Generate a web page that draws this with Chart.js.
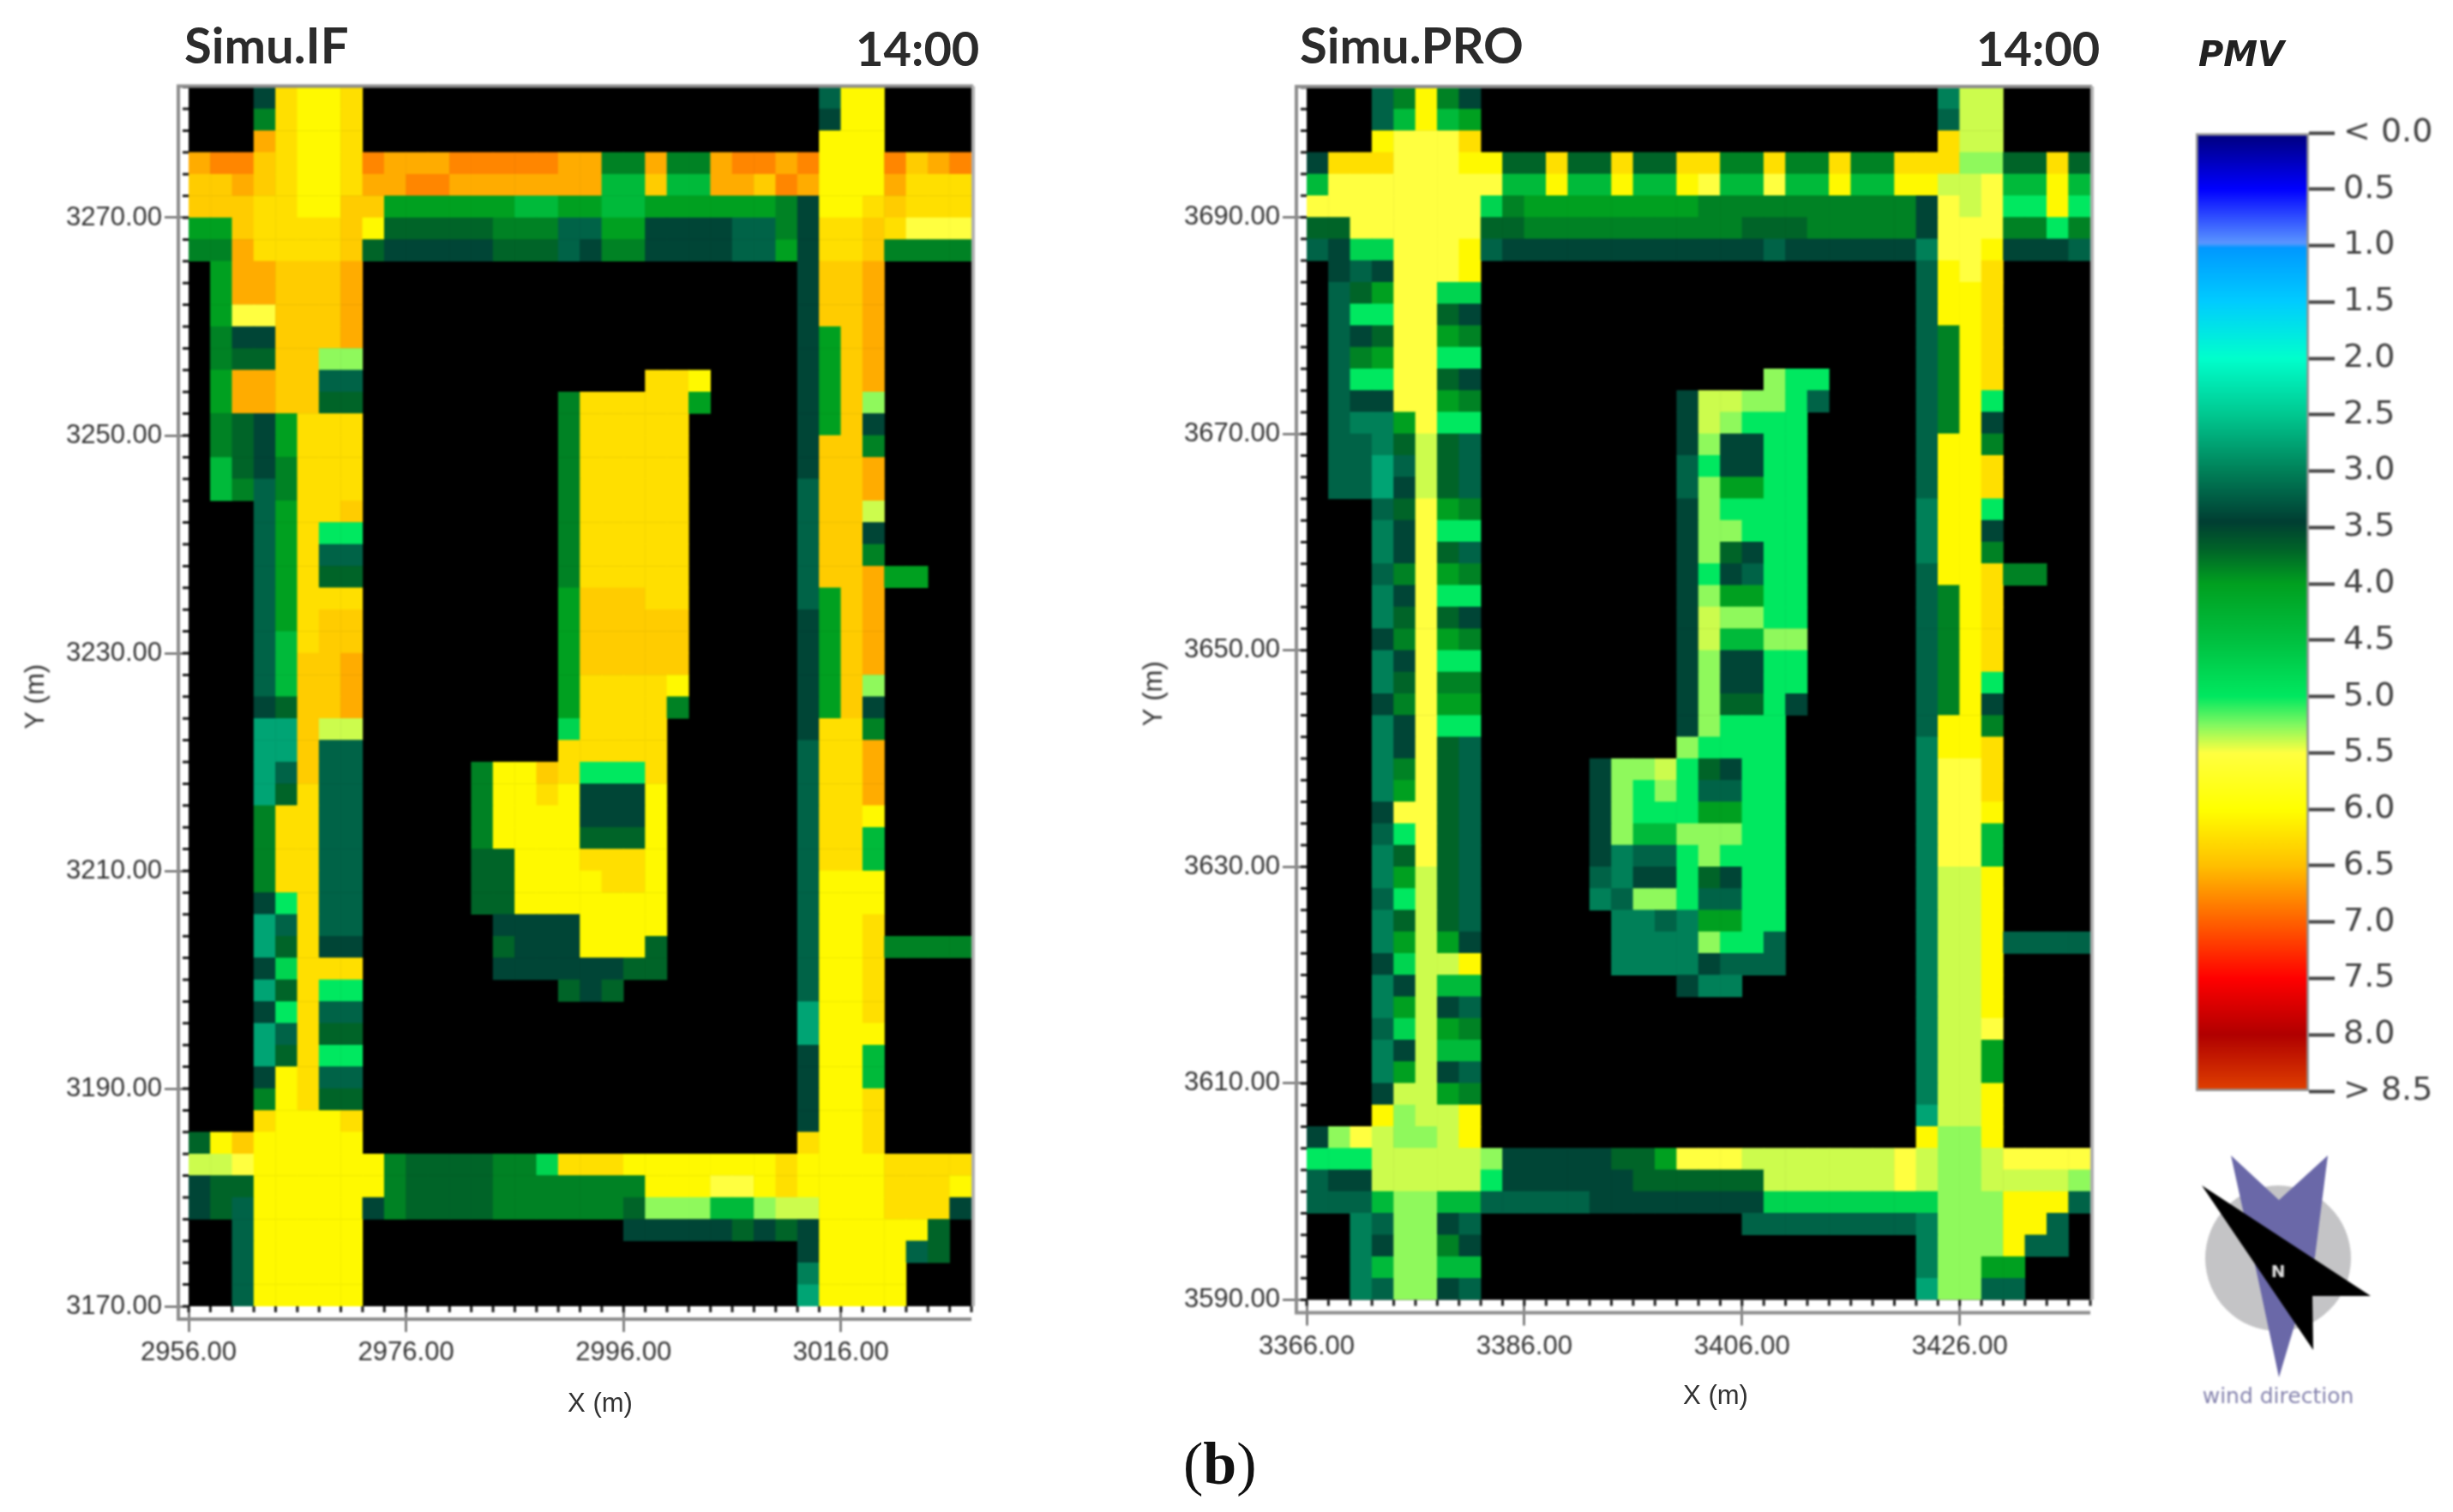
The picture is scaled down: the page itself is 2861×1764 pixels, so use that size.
<!DOCTYPE html>
<html>
<head>
<meta charset="utf-8">
<title>PMV maps</title>
<script src="https://cdn.jsdelivr.net/npm/chart.js@4"></script>
<style>
  html, body { margin: 0; padding: 0; background: #fff; }
  body { position: relative; width: 2861px; height: 1764px; overflow: hidden; }
  canvas { position: absolute; filter: blur(1px); }
  .label { position: absolute; white-space: nowrap; color: #2b2b2b; filter: blur(0.6px); }
  .panel-name { font: bold 58px Lato, sans-serif; }
  .panel-time { font: bold 56px Lato, sans-serif; }
  .axis-name { font: 31px 'Liberation Sans', sans-serif; color: #333; transform: translate(-50%, -50%); }
  #compass { position: absolute; left: 2540px; top: 1330px; filter: blur(1px); }
</style>
</head>
<body>
<canvas id="panelIF"></canvas>
<canvas id="panelPRO"></canvas>
<canvas id="colorbar"></canvas>

<div class="label panel-name" style="left:215px;top:17px">Simu.IF</div>
<div class="label panel-time" style="left:998px;top:22px">14:00</div>
<div class="label panel-name" style="left:1516px;top:17px">Simu.PRO</div>
<div class="label panel-time" style="left:2305px;top:22px">14:00</div>
<div class="label axis-name" style="left:700px;top:1637px">X (m)</div>
<div class="label axis-name" style="left:2001px;top:1628px">X (m)</div>
<div class="label" style="left:2564px;top:40px;font:italic bold 40px 'DejaVu Sans',sans-serif;color:#222">PMV</div>
<div class="label" style="left:1380px;top:1668px;font:70px 'Liberation Serif',serif;color:#111">(<b>b</b>)</div>

<svg id="compass" width="260" height="320" viewBox="2540 1330 260 320">
  <circle cx="2657" cy="1468" r="85" fill="#c4c4c6"/>
  <polygon points="2602,1348 2658,1400 2715,1348 2700,1466 2658,1607 2633,1489" fill="#6a68a8"/>
  <polygon points="2568,1383 2765,1512 2697,1512 2698,1575" fill="#000"/>
  <text x="2657" y="1490" text-anchor="middle" font-family="DejaVu Sans" font-weight="bold" font-size="20" fill="#ddd">N</text>
  <text x="2657" y="1637" text-anchor="middle" font-family="DejaVu Sans" font-size="25" fill="#8583ad">wind direction</text>
</svg>

<script>
// PMV codes used in the cell rows, '.' is a building (no value)
const pmvCodes = "abcdefghijklmnopqr";
const pmvValues = [2.75, 3.0, 3.2, 3.4, 3.7, 3.85, 4.0, 4.4, 4.75, 5.0, 5.28, 5.4, 5.5, 6.05, 6.25, 6.4, 6.6, 6.8];

// Colour scale
const scaleStops = [0, 0.5, 0.98, 1.02, 1.5, 2.0, 2.5, 3.0, 3.45, 3.7, 4.0, 4.5, 5.0, 5.25, 5.5, 6.0, 6.5, 7.0, 7.5, 8.0, 8.5];
const scaleColors = ["#00007a", "#0000ff", "#5a96ff", "#0098ff", "#00ccff", "#00ffcc", "#00c890", "#008058", "#003e32", "#006428",
  "#00a020", "#00c040", "#00e860", "#80f860", "#ffff40", "#ffff00", "#ffbf00", "#ff6000", "#ff0000", "#b00000", "#e04000"];
const colorbarTicks = [0, 0.5, 1, 1.5, 2, 2.5, 3, 3.5, 4, 4.5, 5, 5.5, 6, 6.5, 7, 7.5, 8, 8.5];
const colorbarLabels = ["< 0.0", "0.5", "1.0", "1.5", "2.0", "2.5", "3.0", "3.5", "4.0", "4.5", "5.0", "5.5", "6.0", "6.5", "7.0", "7.5", "8.0", "> 8.5"];

// Simu.IF cells, top row first, 36 columns in groups of six
const ifXTicks = [2956, 2976, 2996, 3016];
const ifYTicks = [3170, 3190, 3210, 3230, 3250, 3270];
const ifRows = [
  "...don no.... ...... ...... .....c nn....",
  "...fon no.... ...... ...... .....d nn....",
  "...qon no.... ...... ...... .....n nn....",
  "qrrpon norqqq rrrrrq qffqff qrrqrn nnrpqr",
  "ppqpon noqqrr qqqqqq qhhphh qqprqn nnqooo",
  "pppoon nppggg ggghhg ghhggg gggfdn nopooo",
  "ggpooo opneee eefffc cggddd dccfdo opommm",
  "ffqooo opeddd ddeeec dffddd dccgdo opffff",
  ".gqqpp pq.... ...... ...... ....dp pq....",
  ".gqqpp pq.... ...... ...... ....dp pq....",
  ".gmmpp pq.... ...... ...... ....dp pq....",
  ".fddpp pq.... ...... ...... ....dg pq....",
  ".feepp kk.... ...... ...... ....dg pq....",
  ".gqqpp cc.... ...... ...oon ....dg pq....",
  ".gqqpp ee.... .....f ooooog ....dg pk....",
  ".fedgo oo.... .....f ooooo. ....dg pd....",
  ".fedgo oo.... .....f ooooo. ....dp pf....",
  ".hedfo oo.... .....f ooooo. ....dp pq....",
  ".hfcfo oo.... .....f ooooo. ....cp pq....",
  "...cgo op.... .....f ooooo. ....cp pl....",
  "...cgo jj.... .....f ooooo. ....cp pd....",
  "...cgo cc.... .....f ooooo. ....cp pf....",
  "...cgo ee.... .....f ooooo. ....cp pqgg..",
  "...cgo oo.... .....g pppoo. ....cg pq....",
  "...cgo pp.... .....g ppppp. ....dg pq....",
  "...cho pp.... .....g ppppp. ....dg pq....",
  "...chp pq.... .....g ppppp. ....dg pq....",
  "...chp pq.... .....g oooon. ....dg pk....",
  "...dep pq.... .....g oooof. ....dg pd....",
  "...aap ll.... .....i oooo.. ....do of....",
  "...aap cc.... .....o oooo.. ....co oq....",
  "...acp cc.... .fnnpo jjjo.. ....co oq....",
  "...aeo cc.... .fnnon dddn.. ....co oq....",
  "...foo cc.... .fnnnn dddn.. ....co on....",
  "...foo cc.... .fnnnn eeen.. ....co oh....",
  "...foo cc.... .eennn ooon.. ....co oh....",
  "...foo cc.... .eennn noon.. ....cn nn....",
  "...djo cc.... .eennn nnnn.. ....cn nn....",
  "...aco cc.... ..dddd nnnn.. ....cn no....",
  "...aeo dd.... ..eddd nnne.. ....cn noffff",
  "...dio oo.... ..dddd ddee.. ....cn no....",
  "...aeo jj.... .....e de.... ....cn no....",
  "...djo cc.... ...... ...... ....an no....",
  "...aco ee.... ...... ...... ....an nn....",
  "...aeo jj.... ...... ...... ....dn nh....",
  "...dno cc.... ...... ...... ....dn nh....",
  "...fno ee.... ...... ...... ....dn no....",
  "...onn no.... ...... ...... ....dn no....",
  "enpnnn nn.... ...... ...... ....on no....",
  "llmnnn nnnfee eeffio oonnnn nnnonn nnoooo",
  "deennn nnnfee eeffff fffnnn mmnonn nnooon",
  "decnnn nndfee eeffff ffekkk hhklln nnoood",
  "..cnnn nn.... ...... ..dddd dededn nnnne.",
  "..cnnn nn.... ...... ...... ....dn nnnce.",
  "..cnnn nn.... ...... ...... ....bn nnn...",
  "..cnnn nn.... ...... ...... ....an nnn..."
];

// Simu.PRO cells
const proXTicks = [3366, 3386, 3406, 3426];
const proYTicks = [3590, 3610, 3630, 3650, 3670, 3690];
const proRows = [
  "...cfn fd.... ...... ...... .....b ll....",
  "...chn hg.... ...... ...... .....c ll....",
  "...nmm mo.... ...... ...... .....o ll....",
  "dooomm mnneeo eeoeeo offoff offooo kkeeoe",
  "hmmmmm mmmhhn hhnhhn mhhmhh nhhnnl lmhhnh",
  "mmmmmm mmifgg gggggg ffffff ffffdm lmjjnj",
  "eemmmm mmeeff ffffff ffeeef ffffdm mmffjf",
  "cdiimm mncddd dddddd dddcdd ddddbm mndddc",
  ".dcdmm mn.... ...... ...... ....cn mo....",
  ".cegmm ii.... ...... ...... ....cn no....",
  ".cjjmm ed.... ...... ...... ....cn no....",
  ".cdemm gf.... ...... ...... ....cf no....",
  ".cfgmm jj.... ...... ...... ....cf no....",
  ".cjjmm ed.... ...... ...kjj ....cf no....",
  ".cddmm gf.... .....d llkkjc ....cf nj....",
  ".cbbgm jj.... .....d lkjjj. ....cf nd....",
  ".ccbel ec.... .....d kddjj. ....cn nf....",
  ".ccacl ec.... .....c jddjj. ....cn no....",
  ".ccadl ec.... .....c kggjj. ....cn no....",
  "...cem gf.... .....d kjjjj. ....bn nj....",
  "...bdm jj.... .....d kkjjj. ....bn nd....",
  "...bdm ec.... .....d kedjj. ....bn nf....",
  "...cfm gf.... .....d jdcjj. ....cn noff..",
  "...bdm jj.... .....d kggjj. ....cf no....",
  "...bem ed.... .....d lkkjj. ....cf no....",
  "...dfm gf.... .....d lhhkk. ....cf no....",
  "...bdm jj.... .....d kddjj. ....cf no....",
  "...bem ff.... .....d kddjj. ....cf nj....",
  "...dfm gg.... .....d keejd. ....cf nd....",
  "...bdm jj.... .....d kjjj.. ....cn nf....",
  "...bdm ec.... .....k jjjj.. ....bn no....",
  "...bfm ec.... .dkklj edjj.. ....bm mo....",
  "...bgm ec.... .dkjkj ccjj.. ....bm mo....",
  "...dmm ec.... .dkjjj ggjj.. ....bm mn....",
  "...cjm ec.... .dkhhk kkjj.. ....bm mh....",
  "...bem ec.... .dbccj kjjj.. ....bm mh....",
  "...bgl ec.... .cbddj edjj.. ....bl ln....",
  "...cjl ec.... .bckkj ccjj.. ....bl ln....",
  "...bel ec.... ..bbcb ggjj.. ....bl ln....",
  "...bgl gd.... ..bbbb kjjc.. ....bl lncccc",
  "...dil ln.... ..bbbb dccc.. ....bl ln....",
  "...bdl hh.... .....d bb.... ....bl ln....",
  "...bgl dc.... ...... ...... ....bl ln....",
  "...cil gf.... ...... ...... ....bl lm....",
  "...bdl hh.... ...... ...... ....bl lg....",
  "...bgl dc.... ...... ...... ....bl lg....",
  "...dll gf.... ...... ...... ....bl ln....",
  "...nkl ln.... ...... ...... ....al ln....",
  "dkmlkk ln.... ...... ...... ....nk kn....",
  "jjjlll llkddd ddeegm mmllll lllmlk klmmmm",
  "cddlll lljddd dddeee eeelll lllmlk kllllk",
  "ccchkk hhcccc cddddd dddiii iiiiik kknnnc",
  "..bckk dc.... ...... ..cccc ccccbk kknnc.",
  "..bdkk fd.... ...... ...... ....bk kkncc.",
  "..bhkk hh.... ...... ...... ....bk kgg...",
  "..bckk dc.... ...... ...... ....ak kcc..."
];

const CELL = 2; // metres

function hexToRgb(hex) {
  return [1, 3, 5].map(i => parseInt(hex.substr(i, 2), 16));
}

function pmvColor(v) {
  let i = 0;
  while (i < scaleStops.length - 2 && v > scaleStops[i + 1]) i++;
  const t = (v - scaleStops[i]) / (scaleStops[i + 1] - scaleStops[i]);
  const a = hexToRgb(scaleColors[i]);
  const b = hexToRgb(scaleColors[i + 1]);
  const c = a.map((x, k) => Math.round(x + (b[k] - x) * t));
  return `rgb(${c[0]},${c[1]},${c[2]})`;
}

function buildCells(rows, xMin, yMax) {
  const cells = [];
  rows.forEach((row, r) => {
    row.replace(/ /g, "").split("").forEach((code, c) => {
      const idx = pmvCodes.indexOf(code);
      if (idx < 0) return;
      cells.push({
        x: xMin + c * CELL + CELL / 2,
        y: yMax - r * CELL - CELL / 2,
        pmv: pmvValues[idx]
      });
    });
  });
  return cells;
}

// Black plot background, simulator frame and the 2 m minor ticks
const framePlugin = {
  id: "frame",
  beforeDatasetsDraw(chart) {
    const a = chart.chartArea;
    const ctx = chart.ctx;
    ctx.save();
    ctx.fillStyle = "#000";
    ctx.fillRect(a.left, a.top, a.right - a.left, a.bottom - a.top);
    ctx.restore();
  },
  afterDraw(chart) {
    const a = chart.chartArea;
    const ctx = chart.ctx;
    const xs = chart.scales.x;
    const ys = chart.scales.y;
    ctx.save();
    ctx.strokeStyle = "#1a1a1a";
    ctx.lineWidth = 3;
    ctx.beginPath();
    for (let v = xs.min; v <= xs.max; v += CELL) {
      const px = xs.getPixelForValue(v);
      ctx.moveTo(px, a.bottom);
      ctx.lineTo(px, a.bottom + 7);
    }
    for (let v = ys.min; v <= ys.max; v += CELL) {
      const py = ys.getPixelForValue(v);
      ctx.moveTo(a.left, py);
      ctx.lineTo(a.left - 7, py);
    }
    ctx.stroke();
    ctx.strokeStyle = "#8c8c8c";
    ctx.lineWidth = 4;
    ctx.beginPath();
    ctx.moveTo(a.right + 2, a.top - 1);
    ctx.lineTo(a.left - 12, a.top - 1);
    ctx.lineTo(a.left - 12, a.bottom + 15);
    ctx.lineTo(a.right, a.bottom + 15);
    ctx.stroke();
    ctx.strokeStyle = "#b0b0b0";
    ctx.beginPath();
    ctx.moveTo(a.right + 2, a.top - 1);
    ctx.lineTo(a.right + 2, a.bottom);
    ctx.stroke();
    ctx.restore();
  }
};

function makePanel(id, box, rows, xTicks, yTicks, pad) {
  const canvas = document.getElementById(id);
  canvas.style.left = box.left + "px";
  canvas.style.top = "0px";
  canvas.width = box.width;
  canvas.height = 1764;
  const xMin = xTicks[0];
  const yMin = yTicks[0];
  const axisFont = { family: "'Liberation Sans', sans-serif", size: 31 };
  return new Chart(canvas, {
    type: "scatter",
    data: {
      datasets: [{
        data: buildCells(rows, xMin, yMin + rows.length * CELL),
        showLine: false,
        pointStyle: "rect",
        borderWidth: 0,
        pointBorderWidth: 0,
        pointHoverRadius: 0,
        pointBackgroundColor: ctx => ctx.raw ? pmvColor(ctx.raw.pmv) : "#000",
        pointRadius: ctx => {
          const s = ctx.chart.scales.x;
          return Math.abs(s.getPixelForValue(s.min + CELL) - s.getPixelForValue(s.min)) / Math.SQRT2 + 0.4;
        }
      }]
    },
    options: {
      responsive: false,
      animation: false,
      events: [],
      layout: { padding: pad },
      plugins: { legend: { display: false }, tooltip: { enabled: false } },
      scales: {
        x: {
          type: "linear",
          min: xMin,
          max: xMin + 36 * CELL,
          afterBuildTicks: s => { s.ticks = xTicks.map(v => ({ value: v })); },
          afterFit: s => { s.height = 140; },
          ticks: {
            maxRotation: 0,
            autoSkip: false,
            padding: 6,
            color: "#333",
            font: axisFont,
            callback: v => Number(v).toFixed(2)
          },
          grid: { drawOnChartArea: false, tickLength: 30, tickWidth: 2, tickColor: "#444" },
          border: { display: false }
        },
        y: {
          type: "linear",
          min: yMin,
          max: yMin + rows.length * CELL,
          afterBuildTicks: s => { s.ticks = yTicks.map(v => ({ value: v })); },
          afterFit: s => { s.width = pad.yWidth; },
          ticks: {
            autoSkip: false,
            padding: 3,
            color: "#333",
            font: axisFont,
            callback: v => Number(v).toFixed(2)
          },
          grid: { drawOnChartArea: false, tickLength: 28, tickWidth: 2, tickColor: "#444" },
          border: { display: false },
          title: { display: true, text: "Y (m)", color: "#333", font: axisFont, padding: { top: pad.yTitle, bottom: 0 } }
        }
      }
    },
    plugins: [framePlugin]
  });
}

function makeColorbar() {
  const canvas = document.getElementById("colorbar");
  canvas.style.left = "2500px";
  canvas.style.top = "0px";
  canvas.width = 361;
  canvas.height = 1400;
  return new Chart(canvas, {
    type: "bar",
    data: {
      labels: ["PMV"],
      datasets: [{
        data: [[colorbarTicks[0], colorbarTicks[colorbarTicks.length - 1]]],
        barPercentage: 1,
        categoryPercentage: 1,
        borderWidth: 3,
        borderColor: "rgba(60,60,60,0.55)",
        borderSkipped: false,
        backgroundColor: ctx => {
          const area = ctx.chart.chartArea;
          if (!area) return "#000";
          const y = ctx.chart.scales.y;
          const g = ctx.chart.ctx.createLinearGradient(0, y.top, 0, y.bottom);
          scaleStops.forEach((s, i) => g.addColorStop(s / 8.5, scaleColors[i]));
          return g;
        }
      }]
    },
    options: {
      responsive: false,
      animation: false,
      events: [],
      layout: { padding: { left: 61, top: 155, right: 0, bottom: 127 } },
      plugins: { legend: { display: false }, tooltip: { enabled: false } },
      scales: {
        x: { display: false },
        y: {
          position: "right",
          reverse: true,
          min: 0,
          max: 8.5,
          afterBuildTicks: s => { s.ticks = colorbarTicks.map(v => ({ value: v })); },
          afterFit: s => { s.width = 168; },
          ticks: {
            autoSkip: false,
            padding: 10,
            color: "#444",
            font: { family: "'DejaVu Sans', sans-serif", size: 38 },
            callback: (v, i) => colorbarLabels[i]
          },
          grid: { drawOnChartArea: false, tickLength: 30, tickWidth: 4, tickColor: "#444" },
          border: { display: false }
        }
      }
    }
  });
}

makePanel("panelIF", { left: 0, width: 1200 }, ifRows, ifXTicks, ifYTicks,
  { left: 0, right: 67, top: 101.6, bottom: 100, yWidth: 220, yTitle: 24 });
makePanel("panelPRO", { left: 1300, width: 1200 }, proRows, proXTicks, proYTicks,
  { left: 0, right: 62, top: 102, bottom: 107.5, yWidth: 224, yTitle: 28 });
makeColorbar();
</script>
</body>
</html>
